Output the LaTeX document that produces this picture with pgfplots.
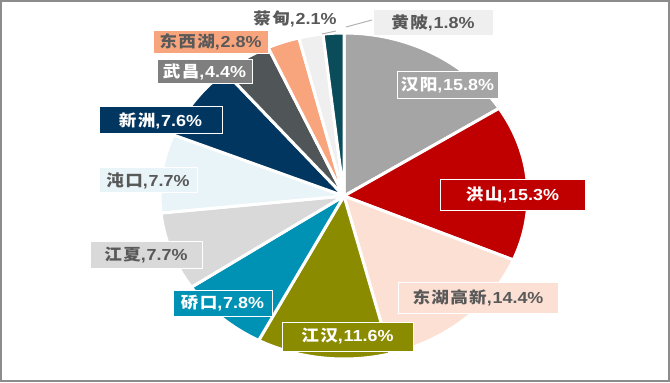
\documentclass[border=0pt]{standalone}
\usepackage{pgfplots}
\pgfplotsset{compat=1.18}
\usepackage{pgfplotstable}
\usepackage{fontspec}
\setmainfont{Liberation Sans}
\newfontfamily\cjk[FakeStretch=1.1,LetterSpace=8]{Noto Sans CJK SC}
\newfontfamily\lat[FakeStretch=1.12]{Liberation Sans}
\newcommand\lbl[2]{{\cjk\bfseries #1}{\lat\bfseries ,\kern0.8bp#2\%}}

\definecolor{c0}{HTML}{A5A5A5}
\definecolor{c1}{HTML}{C00000}
\definecolor{c2}{HTML}{FCE0D3}
\definecolor{c3}{HTML}{8B8B00}
\definecolor{c4}{HTML}{0092B4}
\definecolor{c5}{HTML}{D9D9D9}
\definecolor{c6}{HTML}{E8F4F7}
\definecolor{c7}{HTML}{003660}
\definecolor{c8}{HTML}{505557}
\definecolor{c9}{HTML}{F8A57D}
\definecolor{c10}{HTML}{EFEFEF}
\definecolor{c11}{HTML}{0B4C5B}
\definecolor{txt}{HTML}{595959}
\definecolor{wcbox}{HTML}{7F7F7F}

\pgfplotstableread{
v
15.8
15.3
14.4
11.6
7.8
7.7
7.7
7.6
4.4
2.8
2.1
1.8
}\piedata

\begin{document}
\begin{tikzpicture}
\gdef\cum{0}
\foreach \i in {0,...,11}{%
  \pgfplotstablegetelem{\i}{v}\of\piedata
  \pgfmathsetmacro\t{\cum+\pgfplotsretval}%
  \xdef\cum{\t}}
\xdef\total{\cum}
\gdef\cum{0}
\foreach \i in {0,...,11}{%
  \pgfplotstablegetelem{\i}{v}\of\piedata
  \pgfmathsetmacro\s{90-\cum/\total*360}%
  \pgfmathsetmacro\e{90-(\cum+\pgfplotsretval)/\total*360}%
  \expandafter\xdef\csname sa\i\endcsname{\s}%
  \expandafter\xdef\csname ea\i\endcsname{\e}%
  \pgfmathsetmacro\t{\cum+\pgfplotsretval}%
  \xdef\cum{\t}}
\begin{axis}[
  width=670bp, height=382bp, scale only axis,
  xmin=0, xmax=670, ymin=0, ymax=382,
  axis lines=none, clip=false,
]
\draw[color=gray!90, line width=2bp] (axis cs:1,1) rectangle (axis cs:669,381);
\pgfplotsinvokeforeach{0,...,11}{
  \fill[c#1, draw=white, line width=3bp, line join=round]
    (axis cs:344,186) -- (axis cs:{344+184*cos(\csname sa#1\endcsname)},{186+163*sin(\csname sa#1\endcsname)})
    arc[start angle=\csname sa#1\endcsname, end angle=\csname ea#1\endcsname, x radius=184, y radius=163] -- cycle;
}
% leader lines
\draw[gray!60, line width=1bp] (axis cs:322,348) -- (axis cs:336,351);
\draw[gray!60, line width=1bp] (axis cs:346,355) -- (axis cs:372,362);
% labels
\tikzset{lb/.style={draw=white, line width=1bp, inner sep=0pt, font=\fontsize{16bp}{18bp}\selectfont}}
\node[lb, fill=c0, text=white, minimum width=101bp, minimum height=27bp] at (axis cs:447.5,296.5) {\lbl{汉阳}{15.8}};
\node[lb, fill=c1, text=white, minimum width=145bp, minimum height=30bp] at (axis cs:512.5,187) {\lbl{洪山}{15.3}};
\node[lb, fill=c2, text=txt, minimum width=160bp, minimum height=31bp] at (axis cs:478,84.5) {\lbl{东湖高新}{14.4}};
\node[lb, fill=c3, text=white, minimum width=131bp, minimum height=29bp] at (axis cs:347.5,45.5) {\lbl{江汉}{11.6}};
\node[lb, fill=c4, text=white, minimum width=99bp, minimum height=26bp] at (axis cs:222.5,79) {\lbl{硚口}{7.8}};
\node[lb, fill=c5, text=txt, minimum width=112bp, minimum height=27bp] at (axis cs:146,127) {\lbl{江夏}{7.7}};
\node[lb, fill=c6, text=txt, minimum width=98bp, minimum height=25bp] at (axis cs:148,201.5) {\lbl{沌口}{7.7}};
\node[lb, fill=c7, text=white, minimum width=123bp, minimum height=27bp] at (axis cs:160.5,261.5) {\lbl{新洲}{7.6}};
\node[lb, fill=wcbox, text=white, minimum width=95bp, minimum height=24bp] at (axis cs:204.5,310) {\lbl{武昌}{4.4}};
\node[lb, fill=c9, text=txt, minimum width=115bp, minimum height=23bp] at (axis cs:210.5,340) {\lbl{东西湖}{2.8}};
\node[lb, draw=none, fill=none, text=txt] at (axis cs:295,363) {\lbl{蔡甸}{2.1}};
\node[lb, fill=c10, text=txt, minimum width=120bp, minimum height=26bp] at (axis cs:433,359) {\lbl{黄陂}{1.8}};
\end{axis}
\end{tikzpicture}
\end{document}
